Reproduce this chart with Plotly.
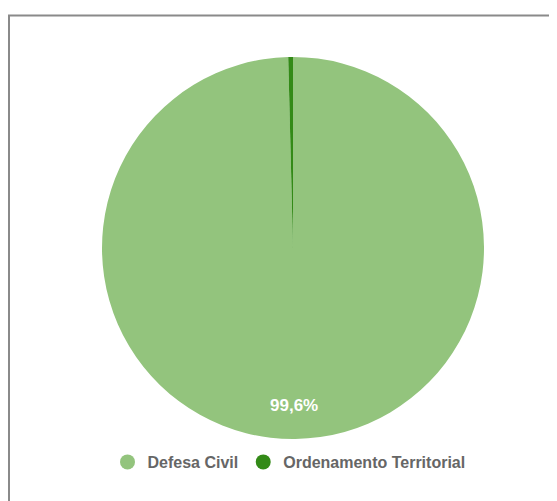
import plotly.graph_objects as go

categories = ["Defesa Civil", "Ordenamento Territorial"]
values = [99.6, 0.4]
colors = ["#93c47d", "#338a17"]

# figure sits inside the page body's 8px margin
W, H = 549, 493
OFF = 8

def px(x):
    return (x - OFF) / W

def py(y):
    return 1 - (y - OFF) / H

total = sum(values)
main_pct = values[0] / total * 100
label_text = f"{main_pct:.1f}%".replace(".", ",")

fig = go.Figure()
fig.add_trace(go.Pie(
    labels=categories,
    values=values,
    marker=dict(colors=colors, line=dict(width=0)),
    sort=False,
    direction="clockwise",
    rotation=0,
    textinfo="none",
    showlegend=False,
    hoverinfo="label+percent",
    domain=dict(x=[px(102), px(484)], y=[py(439), py(57)]),
))

for name, col in zip(categories, colors):
    fig.add_trace(go.Scatter(
        x=[None], y=[None], mode="markers", name=name,
        marker=dict(color=col, size=15, symbol="circle"),
        showlegend=True,
    ))

fig.update_layout(
    width=W, height=H,
    margin=dict(l=0, r=0, t=0, b=0),
    paper_bgcolor="white",
    plot_bgcolor="white",
    separators=",.",
    xaxis=dict(visible=False),
    yaxis=dict(visible=False),
    legend=dict(
        orientation="h",
        x=px(289), xanchor="center",
        y=py(462), yanchor="middle",
        font=dict(family="Liberation Sans, Arial", size=16, color="#666666", weight="bold"),
        itemsizing="trace",
        bgcolor="rgba(0,0,0,0)",
    ),
    annotations=[dict(
        text=label_text, xref="paper", yref="paper",
        x=px(294), y=py(405), xanchor="center", yanchor="middle",
        showarrow=False,
        font=dict(family="Liberation Sans, Arial", size=17, color="white", weight="bold"),
    )],
    shapes=[dict(
        type="rect", xref="paper", yref="paper",
        x0=1 / W, x1=1.05, y0=-0.05, y1=1 - 7.5 / H,
        line=dict(color="#8a8a8a", width=2),
        fillcolor="rgba(0,0,0,0)",
        layer="below",
    )],
)

fig.write_html("out.html")
